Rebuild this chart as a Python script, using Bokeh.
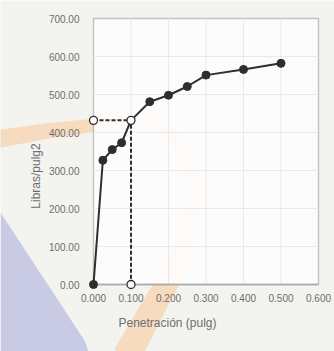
import math

from bokeh.embed import file_html
from bokeh.models import (BoxAnnotation, FixedTicker, NumeralTickFormatter,
                          PolyAnnotation, Range1d)
from bokeh.plotting import figure
from bokeh.resources import INLINE

# CBR test: penetration (in) vs. load (lb/in^2)
penetracion = [0.000, 0.025, 0.050, 0.075, 0.100, 0.150, 0.200, 0.250, 0.300, 0.400, 0.500]
carga = [0.0, 327.0, 355.0, 373.0, 432.0, 481.0, 498.0, 521.0, 551.0, 566.0, 582.0]

# reading taken at 0.1 in of penetration
pen_ref = 0.100
carga_ref = carga[penetracion.index(pen_ref)]

x_ticks = [0.0, 0.1, 0.2, 0.3, 0.4, 0.5, 0.6]
y_ticks = [0, 100, 200, 300, 400, 500, 600, 700]

X_MAX, Y_MAX = 0.6, 700

W, H = 334, 351
# where the plot area sits on the page (px)
LEFT, RIGHT, TOP, BOTTOM = 93, 318, 18, 284
sx = (RIGHT - LEFT) / X_MAX
sy = (BOTTOM - TOP) / Y_MAX

PAGE = "#f3f3f0"
INK = "#2e2e2e"
LABEL = "#6e6e6e"
FONT = "Liberation Sans"

# the frame fills the page; the axes are pinned to the plot area's edges
p = figure(width=W, height=H, output_backend="svg", toolbar_location=None,
           x_range=Range1d(-LEFT / sx, X_MAX + (W - RIGHT) / sx),
           y_range=Range1d(-(H - BOTTOM) / sy, Y_MAX + TOP / sy),
           min_border=0, background_fill_color=PAGE, border_fill_color=PAGE,
           outline_line_color=None)
p.grid.visible = False


def band(center, widths):
    """Polygon outline of a thick stroke following a centre line (canvas px)."""
    left, right = [], []
    n = len(center)
    for i, (x, y) in enumerate(center):
        x0, y0 = center[max(i - 1, 0)]
        x1, y1 = center[min(i + 1, n - 1)]
        dx, dy = x1 - x0, y1 - y0
        length = math.hypot(dx, dy)
        nx, ny = -dy / length, dx / length
        h = widths[i] / 2
        left.append((x + nx * h, y + ny * h))
        right.append((x - nx * h, y - ny * h))
    pts = left + right[::-1]
    return [q[0] for q in pts], [q[1] for q in pts]


# page decoration behind the chart: lavender corner and a peach ring
tri = PolyAnnotation(xs=[0, 84, 88, 0], ys=[212, 340, 351, 351],
                     xs_units="canvas", ys_units="canvas",
                     fill_color="#c9cae4", fill_alpha=1.0, line_alpha=0, level="underlay")

ring_center = [(-5, 139), (50, 130), (100, 124), (140, 122), (165, 128), (182, 145),
               (192, 175), (193, 205), (186, 240), (171, 275), (151, 310), (126, 356)]
ring_width = [18, 15, 13, 13, 14, 15, 16, 17, 19, 22, 25, 28]
rx, ry = band(ring_center, ring_width)
ring = PolyAnnotation(xs=rx, ys=ry, xs_units="canvas", ys_units="canvas",
                      fill_color="#f6d8b8", fill_alpha=0.9, line_alpha=0, level="underlay")

# plot area (washes out the ring inside it) with its dark border
plot_area = BoxAnnotation(left=0, right=X_MAX, bottom=0, top=Y_MAX,
                          fill_color="#fdfdfd", fill_alpha=0.92,
                          line_color="#4a4a4a", line_width=1.4, level="underlay")

p.center = [tri, ring, plot_area] + list(p.center)

# faint grid inside the plot area
gx = x_ticks[1:-1]
gy = y_ticks[1:-1]
p.segment(x0=gx, y0=[0] * len(gx), x1=gx, y1=[Y_MAX] * len(gx),
          line_color="#e9e9e9", line_width=1)
p.segment(x0=[0] * len(gy), y0=gy, x1=[X_MAX] * len(gy), y1=gy,
          line_color="#e9e9e9", line_width=1)

# axes
for ax in (p.xaxis[0], p.yaxis[0]):
    ax.fixed_location = 0
    ax.axis_line_color = None
    ax.major_tick_line_color = None
    ax.minor_tick_line_color = None
    ax.major_tick_out = 0
    ax.major_tick_in = 0
    ax.major_label_text_font = FONT
    ax.major_label_text_font_size = "10px"
    ax.major_label_text_color = LABEL
    ax.axis_label_text_font = FONT
    ax.axis_label_text_font_size = "12px"
    ax.axis_label_text_font_style = "normal"
    ax.axis_label_text_color = LABEL

p.xaxis.ticker = FixedTicker(ticks=x_ticks)
p.xaxis.formatter = NumeralTickFormatter(format="0.000")
p.xaxis.axis_label = "Penetración (pulg)"
p.xaxis.major_label_standoff = 9
p.xaxis.axis_label_standoff = 11

p.yaxis.ticker = FixedTicker(ticks=y_ticks)
p.yaxis.formatter = NumeralTickFormatter(format="0.00")
p.yaxis.axis_label = "Libras/pulg2"
p.yaxis.major_label_standoff = 14
p.yaxis.axis_label_standoff = 3

# lighter horizontal axis line along the bottom of the plot area
p.segment(x0=[0], y0=[0], x1=[X_MAX], y1=[0], line_color="#a9a9a9", line_width=1.4)

# guide lines to the 0.1 in reading
p.line(x=[0, pen_ref, pen_ref], y=[carga_ref, carga_ref, 0],
       line_color=INK, line_width=2, line_dash="4 2")

# load curve
p.line(x=penetracion, y=carga, line_color=INK, line_width=2)

solid_x = [x for x in penetracion if x != pen_ref]
solid_y = [y for x, y in zip(penetracion, carga) if x != pen_ref]
p.scatter(x=solid_x, y=solid_y, size=8, marker="circle",
          fill_color=INK, line_color=INK)

p.scatter(x=[0, pen_ref, pen_ref], y=[carga_ref, carga_ref, 0], size=8, marker="circle",
          fill_color="white", line_color=INK, line_width=1.3)

open("out.html", "w").write(file_html(p, INLINE))
